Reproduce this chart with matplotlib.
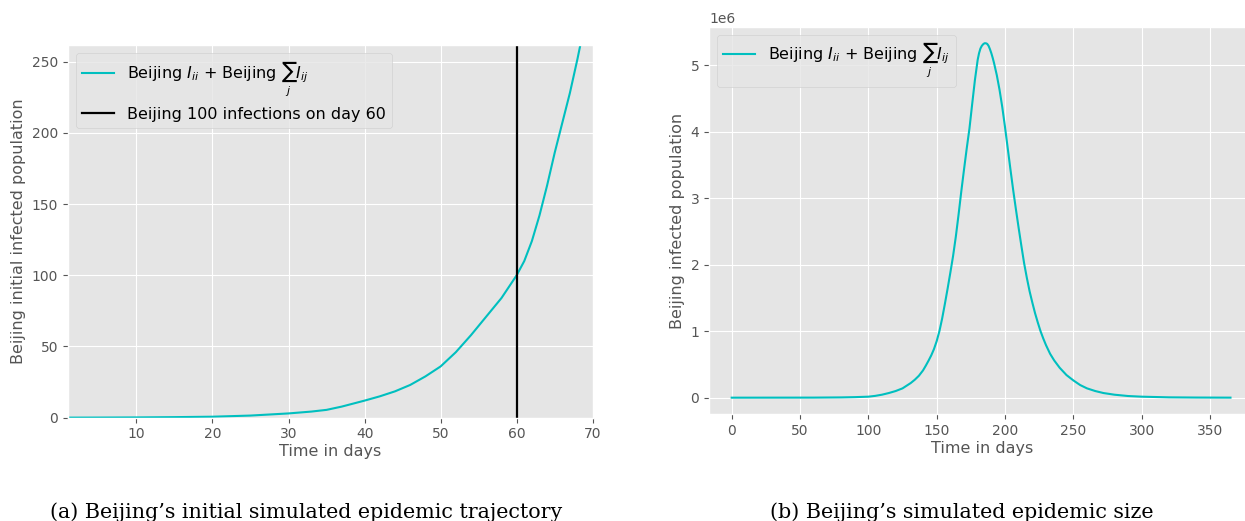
import numpy as np
import matplotlib
matplotlib.use('Agg')
import matplotlib.pyplot as plt

plt.style.use('ggplot')

# (a) initial trajectory, days 1..69
days_a = [1, 5, 10, 15, 20, 25, 30, 33, 35, 37, 40, 42, 44, 46, 48, 50, 52, 54,
          56, 58, 60, 61, 62, 63, 64, 65, 66, 67, 68, 69]
infected_a = [0.05, 0.1, 0.2, 0.4, 0.7, 1.5, 3.0, 4.3, 5.5, 7.8, 12, 15, 18.5, 23,
              29, 36, 46, 58, 71, 84, 100, 110, 124, 142, 163, 186, 207, 228, 252, 278]

# (b) full epidemic, values in millions
days_b = [0, 60, 80, 90, 100, 105, 110, 115, 120, 125, 128, 131, 134, 137, 140, 142,
          144, 146, 148, 150, 152, 154, 156, 158, 160, 162, 164, 166, 168, 170, 172, 174,
          176, 178, 180, 181, 182, 183, 184, 185, 186, 187, 188, 189, 190, 191, 192,
          193, 194, 196, 198, 200, 202, 204, 206, 208, 210, 212, 214, 216, 218, 220,
          222, 224, 226, 228, 230, 233, 236, 240, 245, 250, 255, 260, 266, 272, 280,
          290, 300, 320, 340, 365]
infected_b = [0, 0.001, 0.004, 0.008, 0.015, 0.027, 0.045, 0.07, 0.1, 0.14, 0.18, 0.22,
              0.27, 0.33, 0.41, 0.48, 0.555, 0.635, 0.73, 0.85, 1.0, 1.19, 1.41, 1.64,
              1.88, 2.13, 2.42, 2.75, 3.1, 3.43, 3.75, 4.05, 4.42, 4.78, 5.08, 5.18,
              5.25, 5.29, 5.315, 5.33, 5.33, 5.32, 5.29, 5.24, 5.18, 5.11, 5.03, 4.94,
              4.85, 4.63, 4.37, 4.07, 3.75, 3.43, 3.12, 2.83, 2.55, 2.28, 2.02, 1.8, 1.6,
              1.43, 1.27, 1.13, 1.0, 0.89, 0.79, 0.66, 0.56, 0.45, 0.34, 0.26, 0.19,
              0.14, 0.1, 0.07, 0.045, 0.025, 0.015, 0.005, 0.002, 0.0005]

legend_label = r'Beijing $I_{ii}$ + Beijing $\sum_j I_{ij}$'

W, H = 1245, 521
fig = plt.figure(figsize=(W / 100, H / 100), dpi=100)
fig.patch.set_facecolor('white')

ax1 = fig.add_axes([68 / W, (H - 417.7) / H, 524.7 / W, 372.7 / H])
ax1.plot(days_a, infected_a, color='c', lw=1.5, label=legend_label)
ax1.axvline(60, color='k', lw=1.6, label='Beijing 100 infections on day 60')
ax1.set_xlim(1, 70)
ax1.set_ylim(0, 261.7)
ax1.set_xticks([10, 20, 30, 40, 50, 60, 70])
ax1.set_xlabel('Time in days', fontsize=11.5, labelpad=2)
ax1.set_ylabel('Beijing initial infected population', fontsize=11.5)
ax1.tick_params(labelsize=10)
ax1.legend(loc='upper left', fontsize=11.5)

ax2 = fig.add_axes([709 / W, (H - 414.3) / H, 546.5 / W, 387.6 / H])
ax2.plot(days_b, np.array(infected_b) * 1e6, color='c', lw=1.5, label=legend_label)
ax2.set_xlim(-16.6, 383.3)
ax2.set_ylim(-0.25e6, 5.579e6)
ax2.set_xticks([0, 50, 100, 150, 200, 250, 300, 350])
ax2.set_xlabel('Time in days', fontsize=11.5, labelpad=2)
ax2.set_ylabel('Beijing infected population', fontsize=11.5)
ax2.tick_params(labelsize=10)
ax2.yaxis.get_offset_text().set_fontsize(10)
ax2.legend(loc='upper left', fontsize=11.5)

fig.text(306 / W, 3 / H, '(a) Beijing\u2019s initial simulated epidemic trajectory',
         ha='center', va='baseline', family='DejaVu Serif', fontsize=14.9, color='black')
fig.text(962 / W, 3 / H, '(b) Beijing\u2019s simulated epidemic size',
         ha='center', va='baseline', family='DejaVu Serif', fontsize=14.9, color='black')

fig.savefig('out.png', dpi=100, facecolor='white')
